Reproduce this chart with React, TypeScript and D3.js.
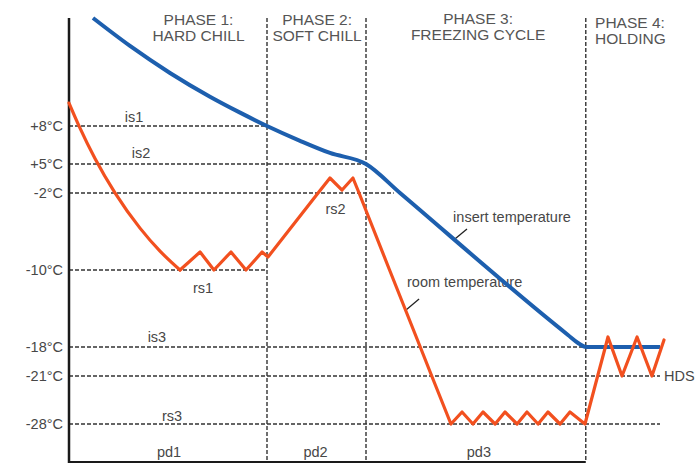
import { useEffect, useRef } from "react";
import * as d3 from "d3";

// temperature set points shown on the axis
const tickTemps = [8, 5, -2, -10, -18, -21, -28];
const tickLabels = ["+8°C", "+5°C", "-2°C", "-10°C", "-18°C", "-21°C", "-28°C"];

// schematic axis: temperature breakpoints (not to scale)
const tempBreaks = [16, 8, 5, -2, -10, -18, -21, -28, -32];

// phases (time units)
const phaseEnds = [100, 150, 261];
const phaseLine1 = ["PHASE 1:", "PHASE 2:", "PHASE 3:", "PHASE 4:"];
const phaseLine2 = ["HARD CHILL", "SOFT CHILL", "FREEZING CYCLE", "HOLDING"];
const phaseDurations = ["pd1", "pd2", "pd3"];

// set point levels and where they stop
const levelTemps = [8, 5, -2, -10, -18, -21, -28];
const levelEnds = [100, 150, 164, 100, 261, 298.5, 298.5];

// insert (core) temperature
const insertTime = [12.1, 30.8, 51.0, 71.2, 86.4, 100, 116.7, 131.8, 150, 167.2, 252, 257.1, 261.1, 298.5];
const insertTemp = [16, 13.93, 11.93, 10.17, 8.99, 8, 6.83, 5.87, 5, -2, -16.75, -17.58, -18, -18];

// room temperature (first 7 points: smooth pull-down)
const roomTime = [
  0, 5.56, 13.13, 23.23, 35.86, 45.96, 56.06,
  66.2, 73.2, 81.8, 89.4, 97.5, 100.5,
  125.8, 131.8, 137.9, 143.4,
  146.5, 161.9, 177.4, 183.2, 192.9,
  198.5, 204.0, 209.1, 215.2, 220.2, 226.3, 231.3, 236.9, 241.9, 248.0, 253.0, 260.6,
  267.0, 270.9, 272.2, 279.3, 286.9, 294.4, 300.5,
];
const roomTemp = [
  9.7, 7.83, 5.43, -1.98, -5.65, -8.04, -10,
  -8.13, -10, -8.13, -10, -8.13, -8.65,
  -2, 1.62, -1.28, 1.62,
  -2, -10, -18, -21, -28,
  -26.25, -28, -26.25, -28, -26.25, -28, -26.25, -28, -26.25, -28, -26.25, -28,
  -21, -18, -16.96, -21, -16.96, -21, -17.27,
];

export default function App() {
  const ref = useRef<SVGSVGElement | null>(null);

  useEffect(() => {
    if (!ref.current) return;
    const width = 696;
    const height = 466;
    const font = "'Liberation Sans', Arial, sans-serif";
    const textColor = "#474747";

    const svg = d3.select(ref.current);
    svg.selectAll("*").remove();
    svg.attr("width", width).attr("height", height);

    const x = d3.scaleLinear().domain([0, 300]).range([69, 663]);
    const y = d3.scaleLinear()
      .domain(tempBreaks)
      .range([18, 126, 164, 193, 270, 347, 376, 424, 462]);

    const top = y(16);
    const bottom = y(-32);

    // dashed set point lines
    svg.append("g")
      .selectAll("line")
      .data(levelTemps)
      .enter()
      .append("line")
      .attr("x1", x(0))
      .attr("x2", (d, i) => x(levelEnds[i]))
      .attr("y1", (d) => y(d))
      .attr("y2", (d) => y(d))
      .attr("stroke", "#333")
      .attr("stroke-width", 1.4)
      .attr("stroke-dasharray", "4,2");

    // phase dividers
    svg.append("g")
      .selectAll("line")
      .data(phaseEnds)
      .enter()
      .append("line")
      .attr("x1", (d) => x(d))
      .attr("x2", (d) => x(d))
      .attr("y1", top)
      .attr("y2", bottom)
      .attr("stroke", "#333")
      .attr("stroke-width", 1.4)
      .attr("stroke-dasharray", "4,2");

    // axes
    svg.append("line")
      .attr("x1", x(0)).attr("x2", x(0))
      .attr("y1", top).attr("y2", bottom + 1)
      .attr("stroke", "#1a1a1a")
      .attr("stroke-width", 2.5);
    svg.append("line")
      .attr("x1", x(0)).attr("x2", x(phaseEnds[2]))
      .attr("y1", bottom).attr("y2", bottom)
      .attr("stroke", "#1a1a1a")
      .attr("stroke-width", 2.2);

    // tick labels
    svg.append("g")
      .selectAll("text")
      .data(tickTemps)
      .enter()
      .append("text")
      .attr("x", x(0) - 6)
      .attr("y", (d) => y(d) + 5)
      .attr("text-anchor", "end")
      .attr("font-family", font)
      .attr("font-size", "14.5px")
      .attr("fill", textColor)
      .text((d, i) => tickLabels[i]);

    // phase titles
    const titleX = [65.4, 125.3, 206.6, 265.7];
    const titleAnchor = ["middle", "middle", "middle", "start"];
    const titleY = [25, 25, 24, 28];
    phaseLine1.forEach((label, i) => {
      const t = svg.append("text")
        .attr("x", x(titleX[i]))
        .attr("y", titleY[i])
        .attr("text-anchor", titleAnchor[i])
        .attr("font-family", font)
        .attr("font-size", "15.5px")
        .attr("fill", "#555");
      t.append("tspan").attr("x", x(titleX[i])).text(label);
      t.append("tspan").attr("x", x(titleX[i])).attr("dy", 15.5).text(phaseLine2[i]);
    });

    // annotations
    const labels = [
      { text: "is1", t: 32.8, dy: y(8) - 4, anchor: "middle" },
      { text: "is2", t: 36.4, dy: y(5) - 6, anchor: "middle" },
      { text: "rs1", t: 67.7, dy: y(-10) + 23, anchor: "middle" },
      { text: "rs2", t: 134.6, dy: y(-2) + 21, anchor: "middle" },
      { text: "is3", t: 44.4, dy: y(-18) - 5, anchor: "middle" },
      { text: "rs3", t: 52, dy: y(-28) - 3, anchor: "middle" },
      { text: "HDS", t: 300.5, dy: y(-21) + 5, anchor: "start" },
      { text: "insert temperature", t: 194, dy: 222, anchor: "start" },
      { text: "room temperature", t: 170.7, dy: 287, anchor: "start" },
    ];
    const durLabelT = [50.5, 124.5, 207];
    phaseDurations.forEach((d, i) => {
      labels.push({ text: d, t: durLabelT[i], dy: bottom - 5, anchor: "middle" });
    });

    svg.append("g")
      .selectAll("text")
      .data(labels)
      .enter()
      .append("text")
      .attr("x", (d) => x(d.t))
      .attr("y", (d) => d.dy)
      .attr("text-anchor", (d) => d.anchor)
      .attr("font-family", font)
      .attr("font-size", "14.5px")
      .attr("fill", textColor)
      .text((d) => d.text);

    // leader ticks from the curve labels to their lines
    const leaders = [
      [[194.9, -6.78], [201.0, -5.74]],
      [[170.2, -14.16], [176.8, -13.01]],
    ];
    svg.append("g")
      .selectAll("line")
      .data(leaders)
      .enter()
      .append("line")
      .attr("x1", (d) => x(d[0][0]))
      .attr("y1", (d) => y(d[0][1]))
      .attr("x2", (d) => x(d[1][0]))
      .attr("y2", (d) => y(d[1][1]))
      .attr("stroke", "#222")
      .attr("stroke-width", 1.3);

    const insert = insertTime.map((t, i) => [t, insertTemp[i]] as [number, number]);
    const room = roomTime.map((t, i) => [t, roomTemp[i]] as [number, number]);

    const smooth = d3.line<[number, number]>()
      .x((d) => x(d[0]))
      .y((d) => y(d[1]))
      .curve(d3.curveMonotoneX);
    const straight = d3.line<[number, number]>()
      .x((d) => x(d[0]))
      .y((d) => y(d[1]));

    svg.append("path")
      .attr("d", smooth(insert))
      .attr("fill", "none")
      .attr("stroke", "#1d5fae")
      .attr("stroke-width", 4)
      .attr("stroke-linejoin", "round");

    const red = "#f2501f";
    svg.append("path")
      .attr("d", smooth(room.slice(0, 7)))
      .attr("fill", "none")
      .attr("stroke", red)
      .attr("stroke-width", 3.2)
      .attr("stroke-linecap", "round");
    svg.append("path")
      .attr("d", straight(room.slice(6)))
      .attr("fill", "none")
      .attr("stroke", red)
      .attr("stroke-width", 3.2)
      .attr("stroke-linejoin", "round")
      .attr("stroke-linecap", "round");
  }, []);

  return (
    <svg
      ref={ref}
      style={{ position: "absolute", left: 0, top: 0, background: "#fff" }}
    ></svg>
  );
}
